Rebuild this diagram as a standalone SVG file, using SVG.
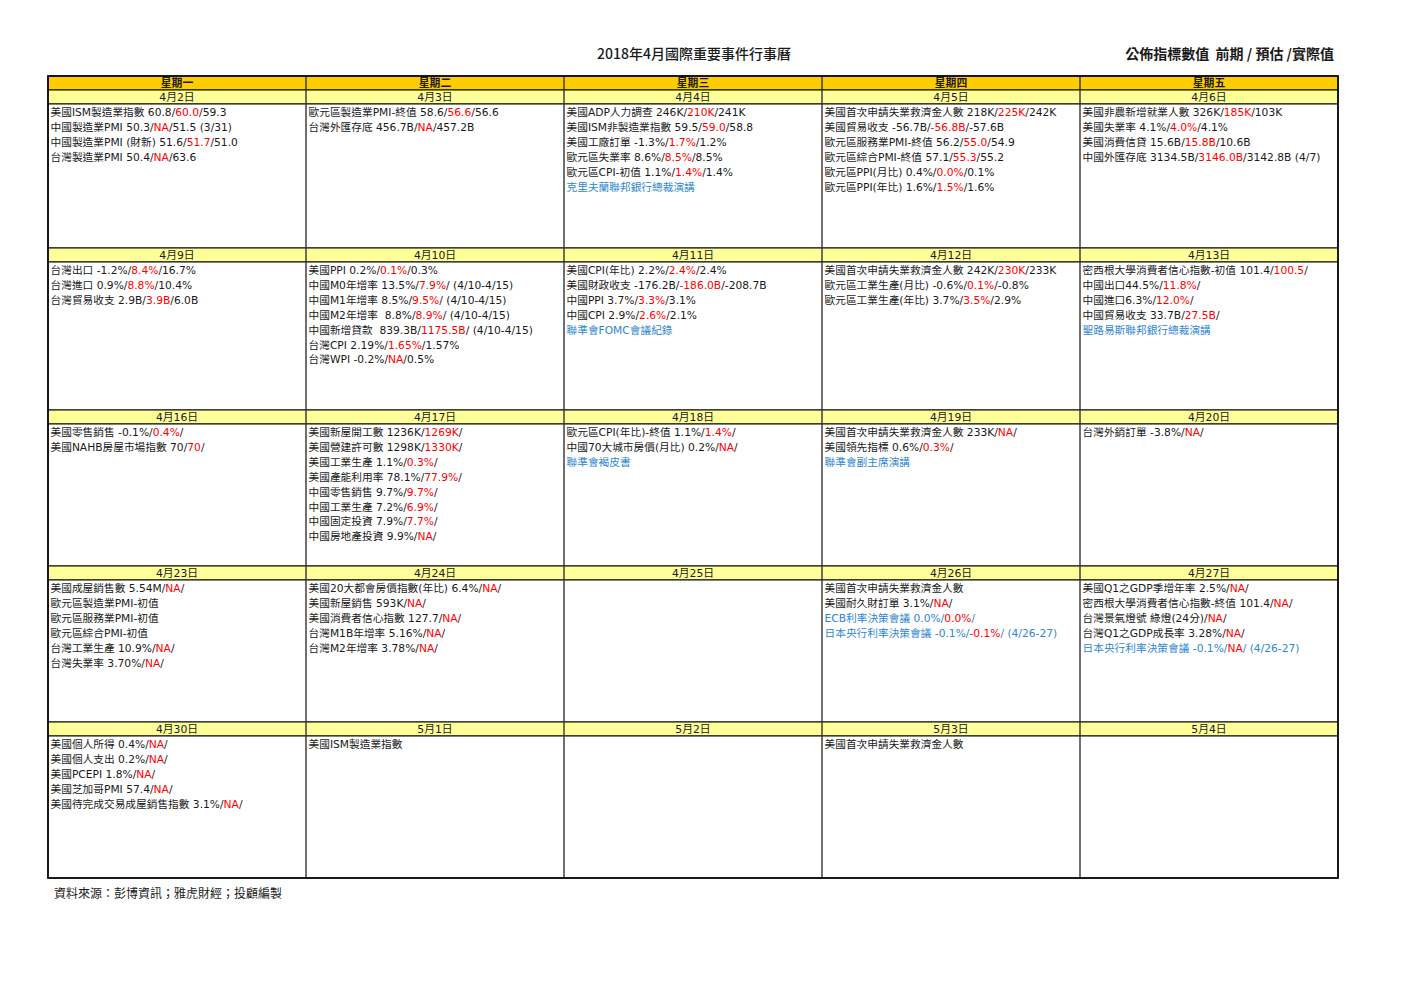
<svg xmlns="http://www.w3.org/2000/svg" width="1403" height="992" viewBox="0 0 1403 992">
<style>
text{font-family:"DejaVu Sans","Noto Sans CJK TC",sans-serif;fill:#1a1a1a}
.t{font-size:14px;font-family:"Noto Sans CJK TC","DejaVu Sans",sans-serif}
.t1{font-weight:500}
.t2{font-weight:bold}
.c{font-size:10.7px}
.h{font-size:10.8px;font-weight:bold;text-anchor:middle}
.d{font-size:10.8px;text-anchor:middle}
.src{font-size:12px;font-family:"Noto Sans CJK TC",sans-serif}
.r{fill:#ff0000}
.b{fill:#2f87d0}
.hd{fill:#ffcc00;stroke:#000;stroke-width:1}
.dt{fill:#ffff99;stroke:#000;stroke-width:1}
.bx{fill:#fff;stroke:#000;stroke-width:1}
.vl{stroke:#333;stroke-width:1.4}
</style>
<rect x="0" y="0" width="1403" height="992" fill="#fff"/>
<text class="t t1" x="694" y="59" text-anchor="middle">2018年4月國際重要事件行事曆</text>
<text class="t t2" x="1334" y="59" text-anchor="end" xml:space="preserve">公佈指標數值  前期 / 預估 /實際值</text>

<g id="table-grid">
<rect class="hd" x="48" y="76" width="1290" height="14"/>
<rect class="dt" x="48" y="90" width="1290" height="14"/>
<rect class="bx" x="48" y="104" width="1290" height="144"/>
<rect class="dt" x="48" y="248" width="1290" height="14"/>
<rect class="bx" x="48" y="262" width="1290" height="148"/>
<rect class="dt" x="48" y="410" width="1290" height="14"/>
<rect class="bx" x="48" y="424" width="1290" height="142"/>
<rect class="dt" x="48" y="566" width="1290" height="14"/>
<rect class="bx" x="48" y="580" width="1290" height="142"/>
<rect class="dt" x="48" y="722" width="1290" height="14"/>
<rect class="bx" x="48" y="736" width="1290" height="142"/>
<line class="vl" x1="306" y1="76" x2="306" y2="878"/>
<line class="vl" x1="564" y1="76" x2="564" y2="878"/>
<line class="vl" x1="822" y1="76" x2="822" y2="878"/>
<line class="vl" x1="1080" y1="76" x2="1080" y2="878"/>
<rect x="48" y="76" width="1290" height="802" fill="none" stroke="#000" stroke-width="1.6"/>
</g>

<g id="weekday-headers">
<text class="h" x="177" y="87">星期一</text>
<text class="h" x="435" y="87">星期二</text>
<text class="h" x="693" y="87">星期三</text>
<text class="h" x="951" y="87">星期四</text>
<text class="h" x="1209" y="87">星期五</text>
</g>

<g id="d0402">
<text class="d" x="177" y="101">4月2日</text>
<text class="c" x="50.5" y="116">美國ISM製造業指數 60.8/<tspan class="r">60.0</tspan>/59.3</text>
<text class="c" x="50.5" y="130.9">中國製造業PMI 50.3/<tspan class="r">NA</tspan>/51.5 (3/31)</text>
<text class="c" x="50.5" y="145.8">中國製造業PMI (財新) 51.6/<tspan class="r">51.7</tspan>/51.0</text>
<text class="c" x="50.5" y="160.7">台灣製造業PMI 50.4/<tspan class="r">NA</tspan>/63.6</text>
</g>
<g id="d0403">
<text class="d" x="435" y="101">4月3日</text>
<text class="c" x="308.5" y="116">歐元區製造業PMI-終值 58.6/<tspan class="r">56.6</tspan>/56.6</text>
<text class="c" x="308.5" y="130.9">台灣外匯存底 456.7B/<tspan class="r">NA</tspan>/457.2B</text>
</g>
<g id="d0404">
<text class="d" x="693" y="101">4月4日</text>
<text class="c" x="566.5" y="116">美國ADP人力調查 246K/<tspan class="r">210K</tspan>/241K</text>
<text class="c" x="566.5" y="130.9">美國ISM非製造業指數 59.5/<tspan class="r">59.0</tspan>/58.8</text>
<text class="c" x="566.5" y="145.8">美國工廠訂單 -1.3%/<tspan class="r">1.7%</tspan>/1.2%</text>
<text class="c" x="566.5" y="160.7">歐元區失業率 8.6%/<tspan class="r">8.5%</tspan>/8.5%</text>
<text class="c" x="566.5" y="175.6">歐元區CPI-初值 1.1%/<tspan class="r">1.4%</tspan>/1.4%</text>
<text class="c b" x="566.5" y="190.5">克里夫蘭聯邦銀行總裁演講</text>
</g>
<g id="d0405">
<text class="d" x="951" y="101">4月5日</text>
<text class="c" x="824.5" y="116">美國首次申請失業救濟金人數 218K/<tspan class="r">225K</tspan>/242K</text>
<text class="c" x="824.5" y="130.9">美國貿易收支 -56.7B/<tspan class="r">-56.8B</tspan>/-57.6B</text>
<text class="c" x="824.5" y="145.8">歐元區服務業PMI-終值 56.2/<tspan class="r">55.0</tspan>/54.9</text>
<text class="c" x="824.5" y="160.7">歐元區綜合PMI-終值 57.1/<tspan class="r">55.3</tspan>/55.2</text>
<text class="c" x="824.5" y="175.6">歐元區PPI(月比) 0.4%/<tspan class="r">0.0%</tspan>/0.1%</text>
<text class="c" x="824.5" y="190.5">歐元區PPI(年比) 1.6%/<tspan class="r">1.5%</tspan>/1.6%</text>
</g>
<g id="d0406">
<text class="d" x="1209" y="101">4月6日</text>
<text class="c" x="1082.5" y="116">美國非農新增就業人數 326K/<tspan class="r">185K</tspan>/103K</text>
<text class="c" x="1082.5" y="130.9">美國失業率 4.1%/<tspan class="r">4.0%</tspan>/4.1%</text>
<text class="c" x="1082.5" y="145.8">美國消費信貸 15.6B/<tspan class="r">15.8B</tspan>/10.6B</text>
<text class="c" x="1082.5" y="160.7">中國外匯存底 3134.5B/<tspan class="r">3146.0B</tspan>/3142.8B (4/7)</text>
</g>

<g id="d0409">
<text class="d" x="177" y="259">4月9日</text>
<text class="c" x="50.5" y="274">台灣出口 -1.2%/<tspan class="r">8.4%</tspan>/16.7%</text>
<text class="c" x="50.5" y="288.9">台灣進口 0.9%/<tspan class="r">8.8%</tspan>/10.4%</text>
<text class="c" x="50.5" y="303.8">台灣貿易收支 2.9B/<tspan class="r">3.9B</tspan>/6.0B</text>
</g>
<g id="d0410">
<text class="d" x="435" y="259">4月10日</text>
<text class="c" x="308.5" y="274">美國PPI 0.2%/<tspan class="r">0.1%</tspan>/0.3%</text>
<text class="c" x="308.5" y="288.9">中國M0年增率 13.5%/<tspan class="r">7.9%</tspan>/ (4/10-4/15)</text>
<text class="c" x="308.5" y="303.8">中國M1年增率 8.5%/<tspan class="r">9.5%</tspan>/ (4/10-4/15)</text>
<text class="c" x="308.5" y="318.7" xml:space="preserve">中國M2年增率  8.8%/<tspan class="r">8.9%</tspan>/ (4/10-4/15)</text>
<text class="c" x="308.5" y="333.6" xml:space="preserve">中國新增貸款  839.3B/<tspan class="r">1175.5B</tspan>/ (4/10-4/15)</text>
<text class="c" x="308.5" y="348.5">台灣CPI 2.19%/<tspan class="r">1.65%</tspan>/1.57%</text>
<text class="c" x="308.5" y="363.4">台灣WPI -0.2%/<tspan class="r">NA</tspan>/0.5%</text>
</g>
<g id="d0411">
<text class="d" x="693" y="259">4月11日</text>
<text class="c" x="566.5" y="274">美國CPI(年比) 2.2%/<tspan class="r">2.4%</tspan>/2.4%</text>
<text class="c" x="566.5" y="288.9">美國財政收支 -176.2B/<tspan class="r">-186.0B</tspan>/-208.7B</text>
<text class="c" x="566.5" y="303.8">中國PPI 3.7%/<tspan class="r">3.3%</tspan>/3.1%</text>
<text class="c" x="566.5" y="318.7">中國CPI 2.9%/<tspan class="r">2.6%</tspan>/2.1%</text>
<text class="c b" x="566.5" y="333.6">聯準會FOMC會議紀錄</text>
</g>
<g id="d0412">
<text class="d" x="951" y="259">4月12日</text>
<text class="c" x="824.5" y="274">美國首次申請失業救濟金人數 242K/<tspan class="r">230K</tspan>/233K</text>
<text class="c" x="824.5" y="288.9">歐元區工業生產(月比) -0.6%/<tspan class="r">0.1%</tspan>/-0.8%</text>
<text class="c" x="824.5" y="303.8">歐元區工業生產(年比) 3.7%/<tspan class="r">3.5%</tspan>/2.9%</text>
</g>
<g id="d0413">
<text class="d" x="1209" y="259">4月13日</text>
<text class="c" x="1082.5" y="274">密西根大學消費者信心指數-初值 101.4/<tspan class="r">100.5</tspan>/</text>
<text class="c" x="1082.5" y="288.9">中國出口44.5%/<tspan class="r">11.8%</tspan>/</text>
<text class="c" x="1082.5" y="303.8">中國進口6.3%/<tspan class="r">12.0%</tspan>/</text>
<text class="c" x="1082.5" y="318.7">中國貿易收支 33.7B/<tspan class="r">27.5B</tspan>/</text>
<text class="c b" x="1082.5" y="333.6">聖路易斯聯邦銀行總裁演講</text>
</g>

<g id="d0416">
<text class="d" x="177" y="421">4月16日</text>
<text class="c" x="50.5" y="436">美國零售銷售 -0.1%/<tspan class="r">0.4%</tspan>/</text>
<text class="c" x="50.5" y="450.9">美國NAHB房屋市場指數 70/<tspan class="r">70</tspan>/</text>
</g>
<g id="d0417">
<text class="d" x="435" y="421">4月17日</text>
<text class="c" x="308.5" y="436">美國新屋開工數 1236K/<tspan class="r">1269K</tspan>/</text>
<text class="c" x="308.5" y="450.9">美國營建許可數 1298K/<tspan class="r">1330K</tspan>/</text>
<text class="c" x="308.5" y="465.8">美國工業生產 1.1%/<tspan class="r">0.3%</tspan>/</text>
<text class="c" x="308.5" y="480.7">美國產能利用率 78.1%/<tspan class="r">77.9%</tspan>/</text>
<text class="c" x="308.5" y="495.6">中國零售銷售 9.7%/<tspan class="r">9.7%</tspan>/</text>
<text class="c" x="308.5" y="510.5">中國工業生產 7.2%/<tspan class="r">6.9%</tspan>/</text>
<text class="c" x="308.5" y="525.4">中國固定投資 7.9%/<tspan class="r">7.7%</tspan>/</text>
<text class="c" x="308.5" y="540.3">中國房地產投資 9.9%/<tspan class="r">NA</tspan>/</text>
</g>
<g id="d0418">
<text class="d" x="693" y="421">4月18日</text>
<text class="c" x="566.5" y="436">歐元區CPI(年比)-終值 1.1%/<tspan class="r">1.4%</tspan>/</text>
<text class="c" x="566.5" y="450.9">中國70大城市房價(月比) 0.2%/<tspan class="r">NA</tspan>/</text>
<text class="c b" x="566.5" y="465.8">聯準會褐皮書</text>
</g>
<g id="d0419">
<text class="d" x="951" y="421">4月19日</text>
<text class="c" x="824.5" y="436">美國首次申請失業救濟金人數 233K/<tspan class="r">NA</tspan>/</text>
<text class="c" x="824.5" y="450.9">美國領先指標 0.6%/<tspan class="r">0.3%</tspan>/</text>
<text class="c b" x="824.5" y="465.8">聯準會副主席演講</text>
</g>
<g id="d0420">
<text class="d" x="1209" y="421">4月20日</text>
<text class="c" x="1082.5" y="436">台灣外銷訂單 -3.8%/<tspan class="r">NA</tspan>/</text>
</g>

<g id="d0423">
<text class="d" x="177" y="577">4月23日</text>
<text class="c" x="50.5" y="592">美國成屋銷售數 5.54M/<tspan class="r">NA</tspan>/</text>
<text class="c" x="50.5" y="606.9">歐元區製造業PMI-初值</text>
<text class="c" x="50.5" y="621.8">歐元區服務業PMI-初值</text>
<text class="c" x="50.5" y="636.7">歐元區綜合PMI-初值</text>
<text class="c" x="50.5" y="651.6">台灣工業生產 10.9%/<tspan class="r">NA</tspan>/</text>
<text class="c" x="50.5" y="666.5">台灣失業率 3.70%/<tspan class="r">NA</tspan>/</text>
</g>
<g id="d0424">
<text class="d" x="435" y="577">4月24日</text>
<text class="c" x="308.5" y="592">美國20大都會房價指數(年比) 6.4%/<tspan class="r">NA</tspan>/</text>
<text class="c" x="308.5" y="606.9">美國新屋銷售 593K/<tspan class="r">NA</tspan>/</text>
<text class="c" x="308.5" y="621.8">美國消費者信心指數 127.7/<tspan class="r">NA</tspan>/</text>
<text class="c" x="308.5" y="636.7">台灣M1B年增率 5.16%/<tspan class="r">NA</tspan>/</text>
<text class="c" x="308.5" y="651.6">台灣M2年增率 3.78%/<tspan class="r">NA</tspan>/</text>
</g>
<g id="d0425">
<text class="d" x="693" y="577">4月25日</text>
</g>
<g id="d0426">
<text class="d" x="951" y="577">4月26日</text>
<text class="c" x="824.5" y="592">美國首次申請失業救濟金人數</text>
<text class="c" x="824.5" y="606.9">美國耐久財訂單 3.1%/<tspan class="r">NA</tspan>/</text>
<text class="c b" x="824.5" y="621.8">ECB利率決策會議 0.0%/<tspan class="r">0.0%</tspan>/</text>
<text class="c b" x="824.5" y="636.7">日本央行利率決策會議 -0.1%/<tspan class="r">-0.1%</tspan>/ (4/26-27)</text>
</g>
<g id="d0427">
<text class="d" x="1209" y="577">4月27日</text>
<text class="c" x="1082.5" y="592">美國Q1之GDP季增年率 2.5%/<tspan class="r">NA</tspan>/</text>
<text class="c" x="1082.5" y="606.9">密西根大學消費者信心指數-終值 101.4/<tspan class="r">NA</tspan>/</text>
<text class="c" x="1082.5" y="621.8">台灣景氣燈號 綠燈(24分)/<tspan class="r">NA</tspan>/</text>
<text class="c" x="1082.5" y="636.7">台灣Q1之GDP成長率 3.28%/<tspan class="r">NA</tspan>/</text>
<text class="c b" x="1082.5" y="651.6">日本央行利率決策會議 -0.1%/<tspan class="r">NA</tspan>/ (4/26-27)</text>
</g>

<g id="d0430">
<text class="d" x="177" y="733">4月30日</text>
<text class="c" x="50.5" y="748">美國個人所得 0.4%/<tspan class="r">NA</tspan>/</text>
<text class="c" x="50.5" y="762.9">美國個人支出 0.2%/<tspan class="r">NA</tspan>/</text>
<text class="c" x="50.5" y="777.8">美國PCEPI 1.8%/<tspan class="r">NA</tspan>/</text>
<text class="c" x="50.5" y="792.7">美國芝加哥PMI 57.4/<tspan class="r">NA</tspan>/</text>
<text class="c" x="50.5" y="807.6">美國待完成交易成屋銷售指數 3.1%/<tspan class="r">NA</tspan>/</text>
</g>
<g id="d0501">
<text class="d" x="435" y="733">5月1日</text>
<text class="c" x="308.5" y="748">美國ISM製造業指數</text>
</g>
<g id="d0502">
<text class="d" x="693" y="733">5月2日</text>
</g>
<g id="d0503">
<text class="d" x="951" y="733">5月3日</text>
<text class="c" x="824.5" y="748">美國首次申請失業救濟金人數</text>
</g>
<g id="d0504">
<text class="d" x="1209" y="733">5月4日</text>
</g>

<text class="src" x="54" y="898">資料來源：彭博資訊；雅虎財經；投顧編製</text>
</svg>
